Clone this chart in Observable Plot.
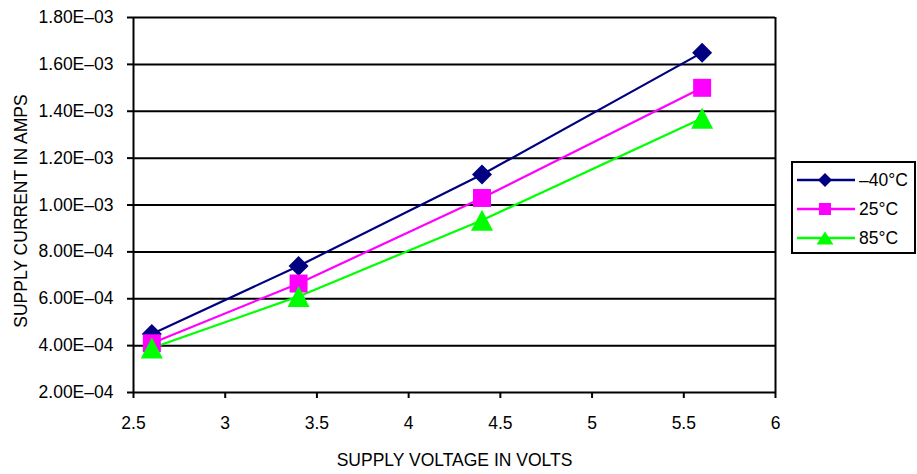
<!DOCTYPE html>
<html>
<head>
<meta charset="utf-8">
<script src="https://cdn.jsdelivr.net/npm/d3@7"></script>
<script src="https://cdn.jsdelivr.net/npm/@observablehq/plot@0.6"></script>
<style>
  html, body { margin: 0; padding: 0; background: #fff; }
  #wrap { position: relative; width: 917px; height: 474px; font-family: "Liberation Sans", Arial, sans-serif; }
  #legend { position: absolute; left: 791px; top: 161px; width: 125px; height: 93px; box-sizing: border-box;
            border: 2px solid #000; background: #fff; }
  .row { position: absolute; left: 3px; height: 20px; display: flex; align-items: center; }
  .row span { font-size: 17.5px; margin-left: 3px; line-height: 20px; }
</style>
</head>
<body>
<div id="wrap"><div id="legend"></div></div>
<script>
// ---- data ----
const voltage = [2.6, 3.4, 4.4, 5.6];
const currentMinus40 = [4.5e-4, 7.4e-4, 1.13e-3, 1.65e-3];
const current25 = [4.1e-4, 6.65e-4, 1.03e-3, 1.50e-3];
const current85 = [3.9e-4, 6.1e-4, 9.35e-4, 1.37e-3];
const seriesNames = ["–40°C", "25°C", "85°C"];
const xTicks = [2.5, 3, 3.5, 4, 4.5, 5, 5.5, 6];
const yTicks = [2e-4, 4e-4, 6e-4, 8e-4, 1e-3, 1.2e-3, 1.4e-3, 1.6e-3, 1.8e-3];
const xTitle = "SUPPLY VOLTAGE IN VOLTS";
const yTitle = "SUPPLY CURRENT IN AMPS";

// ---- styles ----
const FONT = "'Liberation Sans', Arial, sans-serif";
const colors = ["#000080", "#FF00FF", "#00FF00"];
const diamond = {draw(ctx, size) { const a = Math.sqrt(size / Math.PI);
  ctx.moveTo(0, -a); ctx.lineTo(a, 0); ctx.lineTo(0, a); ctx.lineTo(-a, 0); ctx.closePath(); }};
const square = {draw(ctx, size) { const a = Math.sqrt(size / Math.PI);
  ctx.rect(-a, -a, 2 * a, 2 * a); }};
const triangle = {draw(ctx, size) { const a = Math.sqrt(size / Math.PI);
  ctx.moveTo(0, -a); ctx.lineTo(a * 1.05, a); ctx.lineTo(-a * 1.05, a); ctx.closePath(); }};
const symbols = [diamond, square, triangle];
const radii = [10, 9, 10.5];

const seriesValues = [currentMinus40, current25, current85];
const rows = [];
seriesNames.forEach((s, k) => voltage.forEach((v, i) => rows.push({s, v, c: seriesValues[k][i]})));

function sci(d) {
  const e = Math.floor(Math.log10(d) + 1e-9);
  const m = d / Math.pow(10, e);
  const es = (e < 0 ? "–" : "+") + String(Math.abs(e)).padStart(2, "0");
  return m.toFixed(2) + "E" + es;
}

const marks = [
  Plot.ruleY(yTicks, {stroke: "#000", strokeWidth: 2}),
  Plot.ruleX([xTicks[0]], {stroke: "#000", strokeWidth: 2}),
  Plot.ruleX([xTicks[xTicks.length - 1]], {stroke: "#000", strokeWidth: 2}),
  Plot.axisY({ticks: yTicks, tickSize: 6, tickPadding: 14, tickFormat: sci, label: null, strokeWidth: 2, fontSize: 17.5}),
  Plot.axisX({ticks: xTicks, tickSize: 6, tickPadding: 18, tickFormat: d => String(d), label: null, strokeWidth: 2, fontSize: 17.5}),
];
seriesNames.forEach((s, k) => {
  marks.push(Plot.line(rows, {filter: d => d.s === s, x: "v", y: "c", stroke: colors[k], strokeWidth: 2.2}));
});
seriesNames.forEach((s, k) => {
  marks.push(Plot.dot(rows, {filter: d => d.s === s, x: "v", y: "c", symbol: symbols[k], r: radii[k], fill: colors[k], stroke: "none"}));
});
marks.push(Plot.text([xTitle], {text: d => d, frameAnchor: "bottom", lineAnchor: "middle", textAnchor: "middle", dy: 68, fontSize: 17.5}));
marks.push(Plot.text([yTitle], {text: d => d, frameAnchor: "left", lineAnchor: "middle", textAnchor: "middle", rotate: -90, dx: -112, dy: 6, fontSize: 17.5}));

const chart = Plot.plot({
  width: 917, height: 474,
  marginLeft: 133, marginRight: 142, marginTop: 17, marginBottom: 82,
  x: {domain: [xTicks[0], xTicks[xTicks.length - 1]]},
  y: {domain: [yTicks[0], yTicks[yTicks.length - 1]]},
  style: {fontFamily: FONT, fontSize: "17.5px", color: "#000", background: "#fff"},
  marks
});
chart.style.position = "absolute";
chart.style.left = "0";
chart.style.top = "0";
document.getElementById("wrap").insertBefore(chart, document.getElementById("legend"));

// ---- legend ----
const legend = d3.select("#legend");
const legendSyms = [
  g => g.append("path").attr("d", "M29,3 L36,10 L29,17 L22,10 Z"),
  g => g.append("rect").attr("x", 23).attr("y", 4).attr("width", 12).attr("height", 12),
  g => g.append("path").attr("d", "M29,3.5 L37.5,16.5 L20.5,16.5 Z")
];
seriesNames.forEach((s, k) => {
  const row = legend.append("div").attr("class", "row").style("top", (6.7 + 29 * k) + "px");
  const svg = row.append("svg").attr("width", 60).attr("height", 20);
  svg.append("line").attr("x1", 1).attr("x2", 59).attr("y1", 10).attr("y2", 10)
    .attr("stroke", colors[k]).attr("stroke-width", 2.5);
  legendSyms[k](svg).attr("fill", colors[k]);
  row.append("span").text(s);
});
</script>
</body>
</html>
